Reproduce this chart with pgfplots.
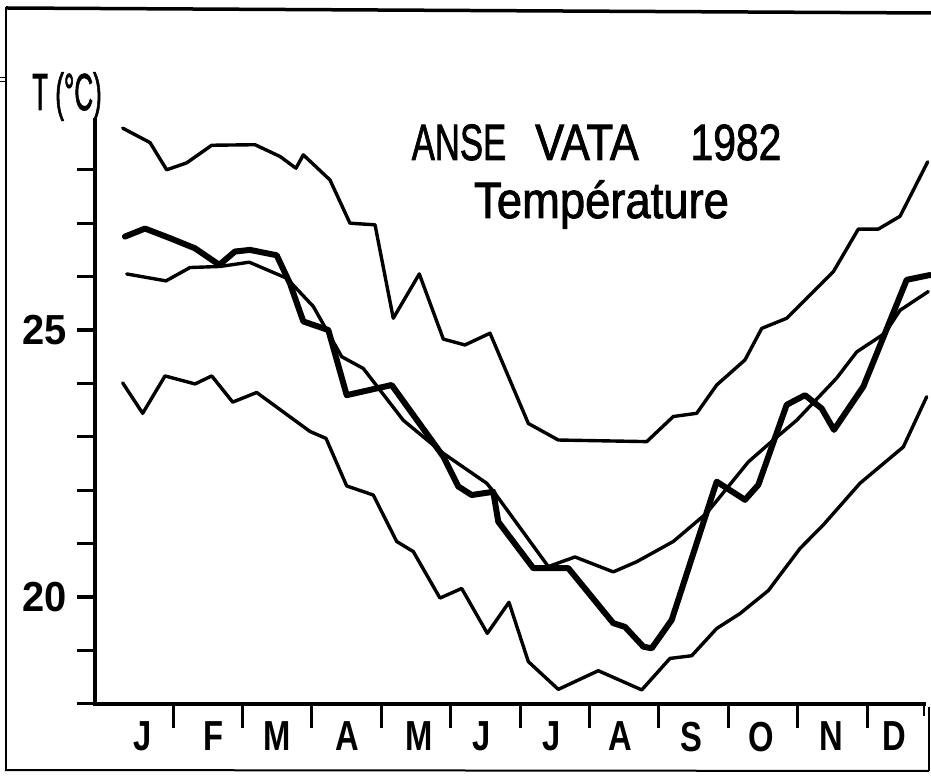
\documentclass[border=0pt]{standalone}
\usepackage{fontspec}
\setmainfont{Liberation Sans}
\newfontfamily\titlefont{Liberation Sans}[FakeBold=1.8]
\usepackage{pgfplots}
\pgfplotsset{compat=1.18}
\begin{document}
\begin{tikzpicture}
\useasboundingbox (0pt,0pt) rectangle (931pt,779pt);
\fill[white] (0pt,0pt) rectangle (931pt,779pt);
% scanned frame
\draw[line width=3.5pt] (6pt,771pt) -- (931pt,766pt);
\draw[line width=2pt] (6pt,772pt) -- (6pt,8pt);
\draw[line width=2pt] (5pt,9pt) -- (929pt,8pt);
\draw[line width=1.5pt] (929pt,8pt) -- (929pt,72pt);
\draw[line width=1pt] (0pt,701pt) -- (5pt,701pt) (0pt,697pt) -- (5pt,697pt);
\begin{axis}[
  at={(95.3pt,75.2pt)}, anchor=south west,
  scale only axis, width=828.6pt, height=583.8pt,
  xmin=-0.1196, xmax=11.82, ymin=18, ymax=28.933,
  axis lines*=left,
  axis line style={line width=4pt, -, line cap=rect},
  clip=false,
  tick align=outside,
  xtick={0.56,1.59,2.50,3.51,4.54,5.45,6.45,7.44,8.47,9.47,10.48,11.39},
  xticklabels={J,F,M,A,M,J,J,A,S,O,N,D},
  major x tick style={draw=none},
  minor xtick={1,2,3,4,5,6,7,8,9,10,11},
  minor tick length=24pt,
  minor x tick style={line width=3pt, black},
  ytick={18,19,20,21,22,23,24,25,26,27,28},
  yticklabels={{},{},20,{},{},{},{},25,{},{},{}},
  major tick length=18pt,
  ytick style={line width=3.2pt, black},
  xticklabel style={font=\fontsize{42}{44}\selectfont\bfseries, xscale=0.78, anchor=north, inner sep=0pt},
  yticklabel style={font=\fontsize{42}{44}\selectfont\bfseries, xscale=0.95, anchor=east, inner sep=0pt, xshift=-11pt},
  every axis plot/.append style={black, line join=round, line cap=round},
]
% maximum
\addplot[line width=3.4pt] coordinates {
(0.275,28.78) (0.669,28.51) (0.909,28.00) (1.197,28.13) (1.558,28.46) (2.182,28.47)
(2.542,28.25) (2.772,28.03) (2.878,28.28) (3.262,27.81) (3.550,27.00) (3.911,26.97)
(4.174,25.22) (4.549,26.05) (4.895,24.83) (5.207,24.72) (5.568,24.94) (6.120,23.25)
(6.552,22.94) (7.826,22.91) (8.209,23.38) (8.546,23.44) (8.834,23.97) (9.242,24.44)
(9.483,25.03) (9.843,25.22) (10.514,26.09) (10.875,26.89) (11.163,26.89) (11.476,27.13)
(11.875,28.15)};
% minimum
\addplot[line width=3.4pt] coordinates {
(0.275,24.01) (0.563,23.44) (0.885,24.14) (1.317,23.99) (1.558,24.14) (1.860,23.65)
(2.206,23.83) (2.974,23.10) (3.205,22.97) (3.503,22.08) (3.886,21.91) (4.223,21.04)
(4.463,20.85) (4.847,19.98) (5.160,20.16) (5.529,19.32) (5.841,19.90) (6.120,18.79)
(6.552,18.27) (7.128,18.62) (7.754,18.26) (8.161,18.85) (8.474,18.90) (8.834,19.41)
(9.170,19.69) (9.578,20.12) (10.035,20.91) (10.370,21.35) (10.899,22.13) (11.523,22.81)
(11.860,23.75)};
% smooth mean
\addplot[line width=3.4pt] coordinates {
(0.333,26.05) (0.899,25.92) (1.245,26.17) (1.677,26.19) (2.099,26.27) (2.638,25.97)
(3.022,25.44) (3.431,24.50) (3.742,24.28) (4.318,23.31) (4.895,22.69) (5.520,22.13)
(5.640,21.94) (6.408,20.57) (6.793,20.75) (7.344,20.47) (7.681,20.66) (8.209,21.04)
(8.690,21.57) (9.290,22.53) (9.650,22.94) (9.987,23.31) (10.563,24.10) (10.852,24.59)
(11.259,24.94) (11.476,25.37) (11.883,25.72)};
% 1982 mean (thick)
\addplot[line width=6pt] coordinates {
(0.308,26.75) (0.597,26.90) (0.957,26.72) (1.317,26.53) (1.667,26.22) (1.893,26.47)
(2.110,26.50) (2.494,26.40) (2.686,25.87) (2.878,25.16) (3.238,25.00) (3.503,23.78)
(4.151,23.97) (4.895,22.63) (5.111,22.07) (5.304,21.91) (5.615,21.97) (5.687,21.41)
(6.192,20.54) (6.696,20.54) (7.344,19.51) (7.513,19.44) (7.777,19.07) (7.898,19.04)
(8.186,19.57) (8.834,22.16) (9.098,21.94) (9.242,21.82) (9.434,22.10) (9.843,23.60)
(10.107,23.78) (10.347,23.53) (10.524,23.13) (10.947,23.94) (11.572,25.94) (11.908,26.03)};
\draw[line width=2.5pt] (axis cs:11.82,18) -- ++(0pt,-12pt);
\end{axis}
% texts
\node[anchor=base, inner sep=0pt, xscale=0.5, font=\titlefont\fontsize{52}{56}\selectfont] at (67pt,669pt) {T (°C)};
\node[anchor=base, inner sep=0pt, xscale=0.68, font=\titlefont\fontsize{51}{56}\selectfont] at (459pt,619pt) {ANSE};
\node[anchor=base, inner sep=0pt, xscale=0.85, font=\titlefont\fontsize{51}{56}\selectfont] at (587pt,619pt) {VATA};
\node[anchor=base, inner sep=0pt, xscale=0.8, font=\titlefont\fontsize{51}{56}\selectfont] at (736pt,619pt) {1982};
\node[anchor=base, inner sep=0pt, xscale=0.89, font=\titlefont\fontsize{51}{56}\selectfont] at (601.5pt,561pt) {Température};
\end{tikzpicture}
\end{document}
